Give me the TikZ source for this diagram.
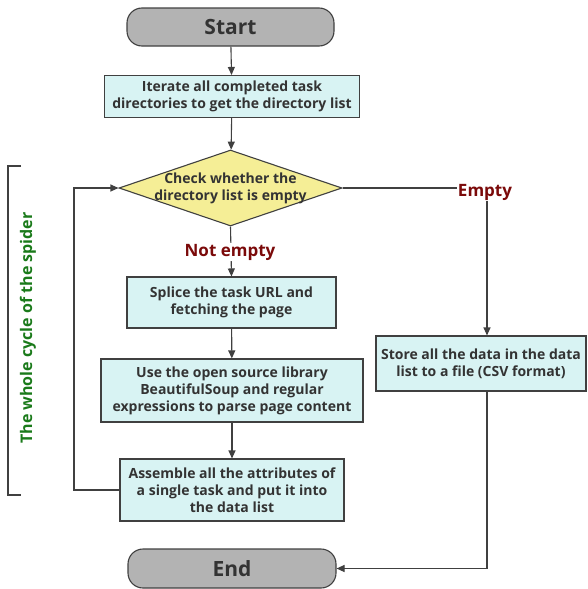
\documentclass[tikz,border=0pt]{standalone}
\usepackage{fontspec}
\setmainfont{Open Sans}
\usetikzlibrary{shapes.geometric,arrows.meta}
\definecolor{boxfill}{HTML}{D8F3F3}
\definecolor{dfill}{HTML}{F5EE96}
\definecolor{tfill}{HTML}{B3B3B3}
\definecolor{edge}{HTML}{404040}
\definecolor{txt}{HTML}{333333}
\definecolor{lblred}{HTML}{7B0A0A}
\definecolor{grn}{HTML}{1A7A1A}
\tikzset{
  proc/.style={draw=edge, line width=1.1pt, fill=boxfill, align=center, text=txt,
    font=\fontsize{14}{17}\selectfont\bfseries, inner sep=0pt},
  term/.style={draw=edge, line width=1.1pt, fill=tfill, rounded corners=15pt, text=txt,
    font=\fontsize{21}{23}\selectfont\bfseries, inner sep=0pt},
  arr/.style={draw=edge, line width=1.1pt, -{Triangle[length=8pt,width=7pt]}},
  ln/.style={draw=edge, line width=1.1pt},
  lbl/.style={text=lblred, font=\fontsize{17}{19}\selectfont\bfseries, fill=white, inner sep=1pt}
}
\begin{document}
\begin{tikzpicture}[x=1pt,y=-1pt]
\useasboundingbox (0,0) rectangle (587,589);
\node[term, minimum width=207pt, minimum height=38pt] (start) at (230.5,27) {Start};
\node[proc, minimum width=255pt, minimum height=42pt] (iter) at (232,96.5) {Iterate all completed task\\directories to get the directory list};
\node[diamond, draw=edge, line width=1.1pt, fill=dfill, minimum width=223pt, minimum height=76pt, inner sep=0pt] (d) at (230.5,188) {};
\node[text=txt, align=center, font=\fontsize{14}{17}\selectfont\bfseries] (dt) at (230.5,188.5) {Check whether the\\directory list is empty};
\node[proc, minimum width=209pt, minimum height=51pt] (splice) at (231.5,302.5) {Splice the task URL and\\fetching the page};
\node[proc, minimum width=262pt, minimum height=63pt] (use) at (232,390.5) {Use the open source library\\BeautifulSoup and regular\\expressions to parse page content};
\node[proc, minimum width=224pt, minimum height=62pt] (asm) at (232,490) {Assemble all the attributes of\\a single task and put it into\\the data list};
\node[proc, minimum width=210pt, minimum height=55pt] (store) at (481,363.5) {Store all the data in the data\\list to a file (CSV format)};
\node[term, minimum width=208pt, minimum height=39pt] (end) at (232,568.5) {End};
\coordinate (ebend) at (487,188);
\coordinate (loopx) at (74,300);
\draw[arr] (start) -- (iter);
\draw[arr] (iter) -- (d);
\draw[arr] (d.south) -- (splice.north);
\draw[arr] (splice) -- (use);
\draw[arr] (use) -- (asm);
\draw[arr] (d.east) -- (ebend) -- (ebend |- store.north);
\draw[arr] (store.south -| ebend) |- (end.east);
\draw[arr] (asm.west) -- (asm.west -| loopx) |- (d.west);
\node[lbl] (ne) at (230,252) {Not empty};
\node[lbl] (em) at (485,192) {Empty};
\coordinate (bt) at (21,166);
\coordinate (bb) at (21,495);
\draw[ln] (bt) -- (8,166) -- (8,495) -- (bb);
\node[rotate=90, text=grn, font=\fontsize{16}{18}\selectfont\bfseries] (cyc) at (28,328) {The whole cycle of the spider};
\end{tikzpicture}
\end{document}
